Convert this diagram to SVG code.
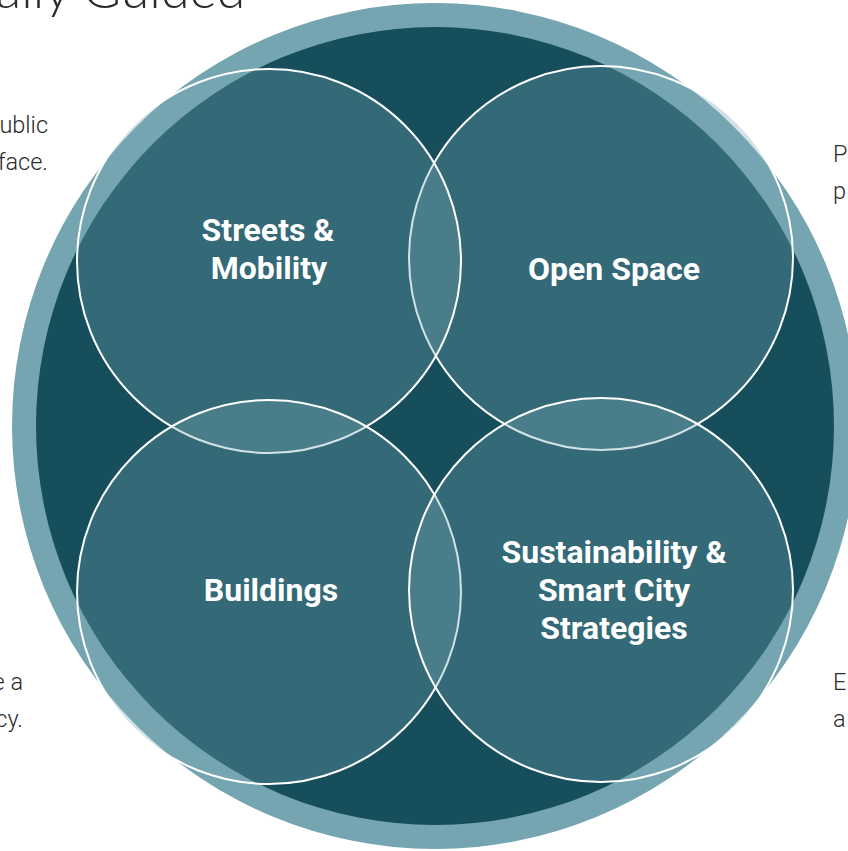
<svg xmlns="http://www.w3.org/2000/svg" width="848" height="851" viewBox="0 0 848 851">
  <style>
    .ring { fill: #75a5b0; }
    .core { fill: #164e5c; }
    .petal { fill: #75a5b0; fill-opacity: 0.32; stroke: #ffffff; stroke-width: 2; }
    .label { font-family: Roboto, "Liberation Sans", sans-serif; font-weight: 700; font-size: 32px; fill: #ffffff; text-anchor: middle; }
    .side { font-family: Roboto, "Liberation Sans", sans-serif; font-weight: 300; font-size: 23.5px; fill: #2b2b2b; }
    .title { font-family: Lato, Roboto, "Liberation Sans", sans-serif; font-weight: 300; font-size: 52px; fill: #2b2b2b; }
  </style>
  <rect width="848" height="851" fill="#ffffff"/>

  <!-- heading and side copy running off the page edges -->
  <text class="title" x="-4" y="8">ally Guided</text>
  <text class="side" x="48" y="133" text-anchor="end">ublic</text>
  <text class="side" x="48" y="170" text-anchor="end">face.</text>
  <text class="side" x="23" y="690" text-anchor="end">e a</text>
  <text class="side" x="23" y="727" text-anchor="end">cy.</text>
  <text class="side" x="833" y="162">P</text>
  <text class="side" x="833" y="199">p</text>
  <text class="side" x="833" y="690">E</text>
  <text class="side" x="833" y="727">a</text>

  <!-- backdrop disc with lighter rim -->
  <g id="backdrop">
    <circle class="ring" cx="435" cy="426" r="423"/>
    <circle class="core" cx="435" cy="426" r="399"/>
  </g>

  <g id="connectors"></g>

  <g id="open-space">
    <circle class="petal" cx="601" cy="258" r="192"/>
    <text class="label" x="614" y="280">Open Space</text>
  </g>
  <g id="streets-mobility">
    <circle class="petal" cx="269" cy="261" r="192"/>
    <text class="label" x="268" y="241">Streets &amp;</text>
    <text class="label" x="269" y="279">Mobility</text>
  </g>
  <g id="buildings">
    <circle class="petal" cx="269" cy="592" r="192"/>
    <text class="label" x="271" y="601">Buildings</text>
  </g>
  <g id="sustainability">
    <circle class="petal" cx="601" cy="590" r="192"/>
    <text class="label" x="614" y="563">Sustainability &amp;</text>
    <text class="label" x="614" y="601">Smart City</text>
    <text class="label" x="614" y="639">Strategies</text>
  </g>
</svg>
